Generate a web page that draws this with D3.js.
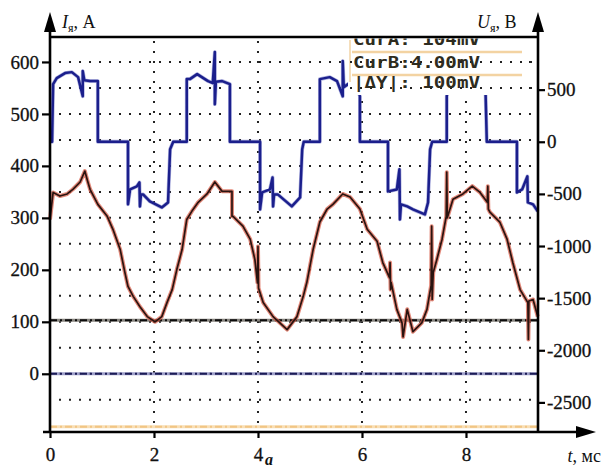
<!DOCTYPE html>
<html>
<head>
<meta charset="utf-8">
<script src="https://cdn.jsdelivr.net/npm/d3@7"></script>
<style>
  body { margin: 0; background: #fff; }
  svg { display: block; }
</style>
</head>
<body>
<div id="chart"></div>
<script>
const ancho = 603;
const alto = 470;
const margen = { superior: 37, inferior: 38, izquierdo: 50, derecho: 65 };

// ------------------------ datos -----------------------
// corriente del inducido, A (eje izquierdo)
const tiempoI = [0, 0.06, 0.19, 0.33, 0.44, 0.58, 0.67, 0.72, 0.77, 0.92, 1.1, 1.21, 1.35, 1.44, 1.5, 1.6, 1.73, 1.87, 2.02, 2.15, 2.25, 2.35, 2.44, 2.54, 2.63, 2.73, 2.85, 3.02, 3.17, 3.31, 3.5, 3.5, 3.52, 3.71, 3.85, 3.94, 3.99, 4.0, 4.01, 4.1, 4.29, 4.56, 4.75, 4.87, 4.94, 5.06, 5.19, 5.33, 5.44, 5.63, 5.77, 5.96, 6.1, 6.29, 6.4, 6.53, 6.54, 6.55, 6.56, 6.67, 6.77, 6.79, 6.87, 6.98, 7.15, 7.25, 7.33, 7.34, 7.35, 7.37, 7.44, 7.54, 7.62, 7.63, 7.64, 7.75, 7.94, 8.12, 8.27, 8.41, 8.42, 8.43, 8.46, 8.65, 8.79, 8.9, 9.04, 9.19, 9.2, 9.21, 9.29, 9.38];
const corrienteI = [297, 349, 342, 346, 355, 369, 390, 372, 355, 326, 303, 278, 239, 195, 168, 149, 129, 110, 100, 110, 137, 162, 201, 239, 297, 313, 330, 346, 369, 351, 351, 303, 303, 284, 259, 220, 175, 245, 165, 137, 110, 85, 110, 149, 176, 239, 292, 317, 326, 346, 340, 317, 278, 255, 214, 185, 214, 162, 176, 124, 98, 71, 124, 81, 98, 124, 170, 284, 143, 195, 220, 259, 303, 388, 300, 336, 346, 361, 349, 330, 361, 317, 311, 292, 259, 214, 162, 137, 66, 140, 143, 110];

// tension del inducido, V (eje derecho)
const tiempoU = [0, 0.04, 0.06, 0.13, 0.29, 0.42, 0.54, 0.63, 0.63, 0.66, 0.77, 0.92, 0.92, 1.5, 1.5, 1.54, 1.67, 1.72, 1.73, 1.75, 1.79, 1.92, 2.15, 2.27, 2.31, 2.37, 2.63, 2.63, 2.69, 2.83, 3.04, 3.13, 3.17, 3.17, 3.19, 3.31, 3.46, 3.46, 4.04, 4.04, 4.08, 4.23, 4.28, 4.29, 4.31, 4.38, 4.65, 4.81, 4.85, 4.88, 5.19, 5.19, 5.38, 5.52, 5.63, 5.63, 5.65, 5.87, 5.96, 5.96, 6.5, 6.5, 6.67, 6.72, 6.73, 6.75, 6.87, 6.98, 7.21, 7.27, 7.31, 7.35, 7.63, 7.63, 7.69, 8.08, 8.37, 8.4, 8.98, 8.98, 9.08, 9.18, 9.19, 9.29, 9.38];
const tensionU = [0, 0, 553, 611, 659, 668, 620, 437, 678, 590, 582, 582, 0, 0, -600, -457, -428, -390, -620, -505, -505, -572, -630, -582, -72, 0, 0, 601, 601, 649, 582, 563, 860, 361, 575, 582, 553, 0, 0, -649, -486, -457, -342, -620, -505, -505, -620, -534, -72, 0, 0, 601, 620, 582, 437, 774, 524, 601, 437, 0, 0, -476, -457, -264, -745, -600, -620, -649, -697, -582, -72, 0, 0, 437, 601, 649, 601, 0, 0, -486, -457, -332, -582, -601, -668];

// trazas horizontales del osciloscopio, A
const nivelesI = [103, 0, -102];

const ticksI = [0, 100, 200, 300, 400, 500, 600];
const ticksU = [500, 0, -500, -1000, -1500, -2000, -2500];
const ticksT = [0, 2, 4, 6, 8];
const rejillaI = [-50, 0, 50, 100, 150, 200, 250, 300, 350, 400, 450, 500, 550, 600];
const rejillaT = [2, 4, 6, 8];
const cursores = ["CurA: 104mV", "CurB:4.00mV", "|\u0394Y|: 100mV"];

// --------------------------------------- //
const fuente = "Liberation Serif, Times New Roman, Tinos, DejaVu Serif, serif";

const svg = d3
  .select("#chart")
  .append("svg")
  .attr("width", ancho)
  .attr("height", alto);

svg.append("rect").attr("width", ancho).attr("height", alto).attr("fill", "#fff");

const x0 = margen.izquierdo;
const x1 = ancho - margen.derecho; // 538
const y0 = alto - margen.inferior; // 432
const y1 = margen.superior;

// escalas
const x = d3.scaleLinear().domain([0, 9.385]).range([x0, x1]);
const yI = d3.scaleLinear().domain([-112, 648]).range([y0, y1]);
const yU = d3.scaleLinear().domain([-2784, 1005]).range([y0, y1]);

// rejilla punteada
const rejilla = svg.append("g").attr("id", "rejilla");
rejilla
  .selectAll("line.h")
  .data(rejillaI)
  .enter()
  .append("line")
  .attr("x1", x0 + 9)
  .attr("x2", x1)
  .attr("y1", (d) => yI(d))
  .attr("y2", (d) => yI(d))
  .attr("stroke", "#222")
  .attr("stroke-width", 2)
  .attr("stroke-dasharray", "2,8");
rejilla
  .selectAll("line.v")
  .data(rejillaT)
  .enter()
  .append("line")
  .attr("x1", (d) => x(d))
  .attr("x2", (d) => x(d))
  .attr("y1", y1 + 4)
  .attr("y2", y0)
  .attr("stroke", "#222")
  .attr("stroke-width", 2)
  .attr("stroke-dasharray", "2,8");

// lineas horizontales
const coloresNivel = [
  { banda: "#75716a", trazo: "#0c0c0c" },
  { banda: "#8e8fc0", trazo: "#1b1b55" },
  { banda: "#f7d9a9", trazo: "#f1c584" },
];
const niveles = svg.append("g").attr("id", "niveles");
nivelesI.forEach((v, i) => {
  niveles
    .append("line")
    .attr("x1", x0)
    .attr("x2", x1)
    .attr("y1", yI(v))
    .attr("y2", yI(v))
    .attr("stroke", coloresNivel[i].banda)
    .attr("stroke-width", 3)
    .attr("opacity", 0.85);
  niveles
    .append("line")
    .attr("x1", x0)
    .attr("x2", x1)
    .attr("y1", yI(v))
    .attr("y2", yI(v))
    .attr("stroke", coloresNivel[i].trazo)
    .attr("stroke-width", 2)
    .attr("stroke-dasharray", "7,3,2,3");
});

// corriente
const datosI = tiempoI.map((t, i) => ({ t: t, v: corrienteI[i] }));
const lineaI = d3.line().x((d) => x(d.t)).y((d) => yI(d.v));
svg
  .append("path")
  .datum(datosI)
  .attr("fill", "none")
  .attr("stroke", "#d8604c")
  .attr("stroke-width", 4)
  .attr("stroke-linejoin", "round")
  .attr("opacity", 0.75)
  .attr("d", lineaI);
svg
  .append("path")
  .datum(datosI)
  .attr("fill", "none")
  .attr("stroke", "#2a1410")
  .attr("stroke-width", 1.7)
  .attr("stroke-linejoin", "round")
  .attr("d", lineaI);

// tension
const datosU = tiempoU.map((t, i) => ({ t: t, v: tensionU[i] }));
const lineaU = d3.line().x((d) => x(d.t)).y((d) => yU(d.v));
svg
  .append("path")
  .datum(datosU)
  .attr("fill", "none")
  .attr("stroke", "#6e72c4")
  .attr("stroke-width", 3.8)
  .attr("stroke-linejoin", "round")
  .attr("opacity", 0.55)
  .attr("d", lineaU);
svg
  .append("path")
  .datum(datosU)
  .attr("fill", "none")
  .attr("stroke", "#1b1f8c")
  .attr("stroke-width", 2.5)
  .attr("stroke-linejoin", "round")
  .attr("d", lineaU);

// cuadro de cursores
const cuadro = svg.append("g").attr("id", "cursores");
cuadro
  .append("rect")
  .attr("x", 348)
  .attr("y", y1)
  .attr("width", 178)
  .attr("height", 58)
  .attr("fill", "#fff");
cuadro
  .selectAll("line.sep")
  .data([52, 75])
  .enter()
  .append("line")
  .attr("x1", 352)
  .attr("x2", 522)
  .attr("y1", (d) => d)
  .attr("y2", (d) => d)
  .attr("stroke", "#f3d3a2")
  .attr("stroke-width", 2.5);
cuadro
  .append("line")
  .attr("x1", 350)
  .attr("x2", 350)
  .attr("y1", 40)
  .attr("y2", 82)
  .attr("stroke", "#f2d3a4")
  .attr("stroke-width", 1.5);
// puntos de la rejilla encima del cuadro
[yI(600), yI(550)].forEach((yy) => {
  cuadro
    .append("line")
    .attr("x1", 350)
    .attr("x2", x1)
    .attr("y1", yy)
    .attr("y2", yy)
    .attr("stroke", "#222")
    .attr("stroke-width", 2)
    .attr("stroke-dasharray", "2,8");
});
svg
  .append("clipPath")
  .attr("id", "recorte")
  .append("rect")
  .attr("x", 340)
  .attr("y", y1 + 1.5)
  .attr("width", 200)
  .attr("height", 70);
cuadro
  .append("g")
  .attr("clip-path", "url(#recorte)")
  .selectAll("text")
  .data(cursores)
  .enter()
  .append("text")
  .attr("x", 353)
  .attr("y", (d, i) => [45, 67.5, 88][i])
  .attr("textLength", 127)
  .attr("lengthAdjust", "spacingAndGlyphs")
  .attr("font-family", "DejaVu Sans Mono, Liberation Mono, monospace")
  .attr("font-weight", "bold")
  .attr("font-size", 15)
  .attr("fill", "#2e2c20")
  .text((d) => d);

// ejes
const grupoEjes = svg.append("g").attr("id", "grupoEjes");
const ejeI = d3.axisLeft(yI).tickValues(ticksI).tickSize(8).tickPadding(3);
const ejeU = d3
  .axisRight(yU)
  .tickValues(ticksU)
  .tickSize(7)
  .tickPadding(2)
  .tickFormat((d) => (d < 0 ? "-" + Math.abs(d) : d));
const ejeT = d3.axisBottom(x).tickValues(ticksT).tickSize(6).tickPadding(10);

const grupoI = grupoEjes.append("g").attr("transform", `translate(${x0},0)`).call(ejeI);
const grupoU = grupoEjes.append("g").attr("transform", `translate(${x1},0)`).call(ejeU);
const grupoT = grupoEjes.append("g").attr("transform", `translate(0,${y0})`).call(ejeT);

[grupoI, grupoU, grupoT].forEach((g) => {
  g.attr("font-family", fuente).attr("font-size", 19);
  g.select(".domain").remove();
  g.selectAll("line").attr("stroke", "#000").attr("stroke-width", 2.2);
  g.selectAll("text")
    .attr("font-family", fuente)
    .attr("font-size", 19)
    .attr("fill", "#111")
    .attr("stroke", "#111")
    .attr("stroke-width", 0.3);
});

// lineas de ejes con flechas
grupoEjes
  .append("line")
  .attr("x1", x0)
  .attr("x2", x1)
  .attr("y1", y1)
  .attr("y2", y1)
  .attr("stroke", "#000")
  .attr("stroke-width", 2.5);
grupoEjes
  .append("line")
  .attr("x1", x0)
  .attr("x2", x0)
  .attr("y1", y0 + 1)
  .attr("y2", 24)
  .attr("stroke", "#000")
  .attr("stroke-width", 2.6);
grupoEjes
  .append("line")
  .attr("x1", x1)
  .attr("x2", x1)
  .attr("y1", y0 + 1)
  .attr("y2", 24)
  .attr("stroke", "#000")
  .attr("stroke-width", 2.6);
grupoEjes
  .append("line")
  .attr("x1", 43)
  .attr("x2", 584)
  .attr("y1", y0)
  .attr("y2", y0)
  .attr("stroke", "#000")
  .attr("stroke-width", 2.6);

const flecha = (px, py, dir) => {
  const p =
    dir === "arriba"
      ? [[px, py], [px - 6, py + 20], [px + 6, py + 20]]
      : [[px, py], [px - 20, py - 6], [px - 20, py + 6]];
  grupoEjes.append("path").attr("d", "M" + p.join("L") + "Z").attr("fill", "#000");
};
flecha(x0, 12, "arriba");
flecha(x1, 12, "arriba");
flecha(596, y0, "derecha");

// titulos de ejes
const titulo = (px, py, simbolo, unidad, ancla) => {
  const t = svg
    .append("text")
    .attr("x", px)
    .attr("y", py)
    .attr("font-family", fuente)
    .attr("font-size", 18)
    .attr("fill", "#111")
    .attr("text-anchor", ancla);
  t.append("tspan").attr("font-style", "italic").text(simbolo);
  if (simbolo !== "t") {
    t.append("tspan").attr("font-size", 12).attr("dy", 4).text("я");
    t.append("tspan").attr("dy", -4).text(", " + unidad);
  } else {
    t.append("tspan").text(", " + unidad);
  }
};
titulo(62, 28, "I", "А", "start");
titulo(477, 28, "U", "В", "start");
titulo(601, 462, "t", "мс", "end");

svg
  .append("text")
  .attr("x", 269)
  .attr("y", 465)
  .attr("text-anchor", "middle")
  .attr("font-family", fuente)
  .attr("font-weight", "bold")
  .attr("font-style", "italic")
  .attr("font-size", 16)
  .attr("fill", "#111")
  .text("а");
</script>
</body>
</html>
